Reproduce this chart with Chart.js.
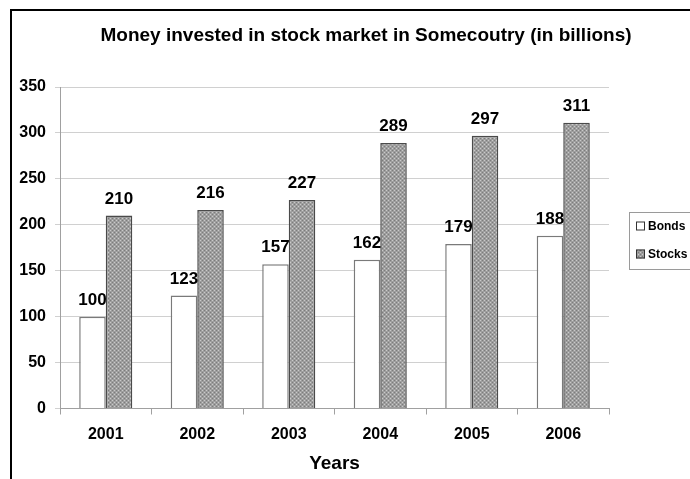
<!DOCTYPE html>
<html>
<head>
<meta charset="utf-8">
<script src="https://cdn.jsdelivr.net/npm/chart.js@4"></script>
<style>
  html, body { margin: 0; padding: 0; background: #fff; }
  #wrap { width: 690px; height: 479px; position: relative; }
</style>
</head>
<body>
<div id="wrap"><canvas id="invest"></canvas></div>
<script>
const years = ['2001', '2002', '2003', '2004', '2005', '2006'];
const bonds = [100, 123, 157, 162, 179, 188];
const stocks = [210, 216, 227, 289, 297, 311];
const seriesNames = ['Bonds', 'Stocks'];

const FONT = '"Liberation Sans", Arial, sans-serif';

// dotted grey fill like the old excel pattern
function makePattern() {
    const c = document.createElement('canvas');
    c.width = 4; c.height = 4;
    const g = c.getContext('2d');
    g.fillStyle = '#9e9e9e';
    g.fillRect(0, 0, 4, 4);
    g.fillStyle = '#cacaca';
    g.fillRect(0, 0, 1, 1);
    g.fillRect(2, 2, 1, 1);
    g.fillStyle = '#7c7c7c';
    g.fillRect(2, 0, 1, 1);
    g.fillRect(0, 2, 1, 1);
    return g.createPattern(c, 'repeat');
}
const dots = makePattern();

const decor = {
    id: 'decor',
    beforeDraw(chart) {
        const ctx = chart.ctx;
        ctx.save();
        ctx.strokeStyle = '#000';
        ctx.lineWidth = 2;
        ctx.beginPath();
        ctx.moveTo(11, 479);
        ctx.lineTo(11, 10);
        ctx.lineTo(690, 10);
        ctx.stroke();
        ctx.restore();
    },
    afterDatasetsDraw(chart) {
        const ctx = chart.ctx;
        ctx.save();
        ctx.fillStyle = '#000';
        ctx.font = 'bold 17px ' + FONT;
        ctx.textAlign = 'center';
        ctx.textBaseline = 'bottom';
        chart.data.datasets.forEach((ds, i) => {
            chart.getDatasetMeta(i).data.forEach((bar, j) => {
                ctx.fillText(ds.data[j], bar.x, bar.y - 8);
            });
        });
        ctx.restore();
    },
    afterDraw(chart) {
        const ctx = chart.ctx;
        ctx.save();
        // title
        ctx.fillStyle = '#000';
        ctx.font = 'bold 19px ' + FONT;
        ctx.textAlign = 'center';
        ctx.textBaseline = 'middle';
        ctx.fillText('Money invested in stock market in Somecoutry (in billions)', 366, 36);

        // legend box
        ctx.strokeStyle = '#9a9a9a';
        ctx.lineWidth = 1;
        ctx.strokeRect(629.5, 212.5, 70, 57);
        ctx.font = 'bold 12px ' + FONT;
        ctx.textAlign = 'left';
        chart.data.datasets.forEach((ds, i) => {
            const y = 226 + i * 28;
            ctx.fillStyle = ds.backgroundColor;
            ctx.fillRect(636, y - 4.5, 9, 9);
            ctx.strokeStyle = '#333';
            ctx.strokeRect(636.5, y - 4, 8, 8);
            ctx.fillStyle = '#000';
            ctx.fillText(seriesNames[i], 648, y + 0.5);
        });
        ctx.restore();
    }
};

new Chart(document.getElementById('invest'), {
    type: 'bar',
    data: {
        labels: years,
        datasets: [
            {
                label: seriesNames[0],
                data: bonds,
                backgroundColor: '#ffffff',
                borderColor: '#7a7a7a',
                borderWidth: 1.5
            },
            {
                label: seriesNames[1],
                data: stocks,
                backgroundColor: dots,
                borderColor: '#4a4a4a',
                borderWidth: 1.5
            }
        ]
    },
    options: {
        responsive: true,
        maintainAspectRatio: false,
        animation: false,
        categoryPercentage: 0.58,
        barPercentage: 1.0,
        layout: {
            padding: { top: 87, right: 81, left: 0, bottom: 0 }
        },
        plugins: {
            legend: { display: false },
            title: { display: false },
            tooltip: { enabled: false }
        },
        scales: {
            x: {
                afterFit(scale) { scale.height = 70.5; },
                grid: {
                    drawOnChartArea: false,
                    drawTicks: true,
                    tickLength: 6,
                    color: '#a0a0a0',
                    offset: true
                },
                border: { color: '#a0a0a0', width: 1 },
                ticks: {
                    color: '#000',
                    padding: 10,
                    font: { family: FONT, size: 16, weight: 'bold' }
                },
                title: {
                    display: true,
                    text: 'Years',
                    color: '#000',
                    padding: { top: 2, bottom: 4 },
                    font: { family: FONT, size: 19, weight: 'bold' }
                }
            },
            y: {
                min: 0,
                max: 350,
                afterFit(scale) { scale.width = 60; },
                grid: {
                    color: '#d0d0d0',
                    tickLength: 5,
                    drawTicks: true
                },
                border: { color: '#a0a0a0', width: 1 },
                ticks: {
                    stepSize: 50,
                    color: '#000',
                    padding: 9,
                    font: { family: FONT, size: 16, weight: 'bold' }
                }
            }
        }
    },
    plugins: [decor]
});
</script>
</body>
</html>
